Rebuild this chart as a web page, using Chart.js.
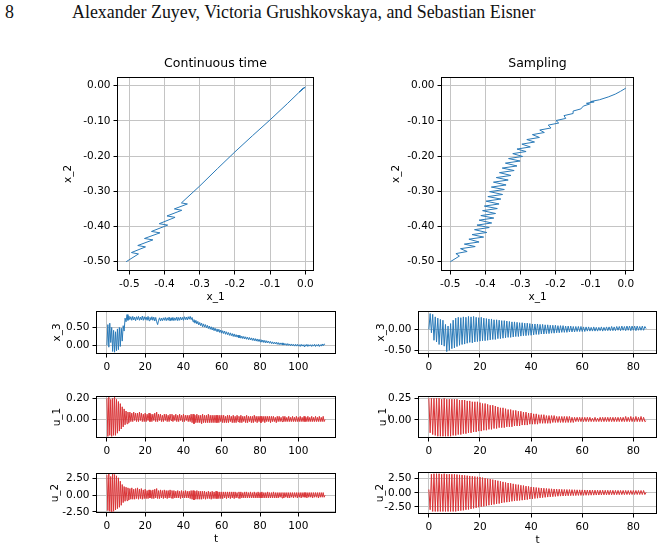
<!DOCTYPE html>
<html><head><meta charset="utf-8">
<script src="https://cdn.jsdelivr.net/npm/chart.js@4.4.1/dist/chart.umd.min.js"></script>
<style>
html,body{margin:0;overflow:hidden}
body{width:664px;height:550px;position:relative;background:#fff}
canvas{position:absolute}
.hdr{position:absolute;top:2px;font-family:"Liberation Serif","DejaVu Serif",serif;font-size:17.9px;line-height:20px;color:#111;white-space:nowrap}
</style></head>
<body>
<div class="hdr" style="left:5px">8</div>
<div class="hdr" style="left:72px">Alexander Zuyev, Victoria Grushkovskaya, and Sebastian Eisner</div>
<canvas id="cTL"></canvas><canvas id="cTR"></canvas>
<canvas id="cX3L"></canvas><canvas id="cX3R"></canvas>
<canvas id="cU1L"></canvas><canvas id="cU1R"></canvas>
<canvas id="cU2L"></canvas><canvas id="cU2R"></canvas>
<script>
const FONT='"DejaVu Sans", sans-serif';
const GRID='#c4c4c4';
const BLUE='#2a7ab8';
const RED='#d93336';
const SAMPLE_STEP=0.5;

// ---- tick values / labels ----
const phaseXTicks=[-0.5,-0.4,-0.3,-0.2,-0.1,0.0];
const phaseXLabels=['-0.5','-0.4','-0.3','-0.2','-0.1','0.0'];
const phaseYTicks=[-0.5,-0.4,-0.3,-0.2,-0.1,0.0];
const phaseYLabels=['-0.50','-0.40','-0.30','-0.20','-0.10','0.00'];
const contTTicks=[0,20,40,60,80,100];
const contTLabels=['0','20','40','60','80','100'];
const sampTTicks=[0,20,40,60,80];
const sampTLabels=['0','20','40','60','80'];
const x3ContYTicks=[0,0.5];  const x3ContYLabels=['0.00','0.50'];
const x3SampYTicks=[-0.5,0]; const x3SampYLabels=['-0.50','0.00'];
const u1ContYTicks=[0,0.2];  const u1ContYLabels=['0.00','0.20'];
const u1SampYTicks=[0,0.25]; const u1SampYLabels=['0.00','0.25'];
const u2YTicks=[-2.5,0,2.5]; const u2YLabels=['-2.50','0.00','2.50'];

// ---- phase portraits (x_1, x_2) ----
const contX1=[-0.509,-0.474,-0.494,-0.454,-0.476,-0.433,-0.457,-0.413,-0.437,-0.391,-0.415,-0.370,-0.393,-0.351,-0.372,-0.335,-0.352,-0.300,-0.250,-0.200,-0.150,-0.100,-0.050,-0.020,-0.003,-0.018,0.000,-0.012,-0.002];
const contX2=[-0.500,-0.478,-0.474,-0.458,-0.454,-0.438,-0.434,-0.418,-0.414,-0.396,-0.392,-0.374,-0.370,-0.354,-0.350,-0.336,-0.333,-0.285,-0.236,-0.188,-0.142,-0.097,-0.050,-0.021,-0.006,-0.018,-0.004,-0.012,-0.005];
const sampX1=[-0.500,-0.474,-0.484,-0.452,-0.471,-0.429,-0.460,-0.418,-0.447,-0.405,-0.438,-0.396,-0.431,-0.389,-0.424,-0.382,-0.418,-0.376,-0.413,-0.371,-0.408,-0.366,-0.403,-0.361,-0.398,-0.356,-0.393,-0.351,-0.388,-0.346,-0.383,-0.341,-0.377,-0.335,-0.369,-0.327,-0.360,-0.318,-0.352,-0.310,-0.343,-0.301,-0.334,-0.294,-0.322,-0.284,-0.310,-0.272,-0.296,-0.260,-0.282,-0.246,-0.266,-0.232,-0.245,-0.213,-0.221,-0.191,-0.199,-0.171,-0.176,-0.150,-0.150,-0.128,-0.121,-0.103,-0.112,-0.090,-0.100,-0.075,-0.050,-0.030,-0.015,0.000];
const sampX2=[-0.500,-0.484,-0.477,-0.471,-0.463,-0.457,-0.450,-0.444,-0.436,-0.430,-0.423,-0.417,-0.409,-0.403,-0.396,-0.390,-0.382,-0.376,-0.369,-0.363,-0.355,-0.349,-0.342,-0.336,-0.328,-0.322,-0.315,-0.309,-0.301,-0.295,-0.288,-0.282,-0.274,-0.268,-0.261,-0.255,-0.247,-0.241,-0.234,-0.228,-0.220,-0.214,-0.207,-0.201,-0.193,-0.187,-0.180,-0.174,-0.166,-0.160,-0.153,-0.147,-0.139,-0.133,-0.126,-0.120,-0.112,-0.106,-0.099,-0.093,-0.085,-0.079,-0.072,-0.066,-0.058,-0.052,-0.050,-0.046,-0.045,-0.040,-0.032,-0.024,-0.016,-0.007];

// ---- time series, sampled every SAMPLE_STEP ----
const x3Cont=[0,.58,-.05,.62,.08,.50,-.17,.42,-.19,.38,-.15,.46,-.12,.50,-.03,.48,.12,.55,.40,.76,.66,.86,.70,.82,
.72,.80,.70,.81,.71,.79,.69,.80,.72,.81,.70,.79,.71,.82,.70,.80,.72,.79,.70,.81,.69,.78,.71,.80,.70,.79,.68,.78,.66,.58,
.70,.77,.68,.76,.69,.77,.70,.78,.69,.77,.70,.79,.68,.77,.70,.78,.69,.77,.70,.79,.69,.78,.70,.79,.71,.78,.70,.80,.72,.79,.71,.80,.73,.81,.72,.78,
.66,.72,.62,.70,.60,.67,.57,.64,.55,.62,.52,.60,.51,.58,.49,.56,.47,.54,.45,.52,.43,.50,.41,.48,.40,.46,.38,.45,.36,.43,
.34,.41,.33,.40,.31,.38,.30,.36,.28,.35,.27,.33,.25,.32,.24,.30,.23,.29,.21,.28,.20,.26,.19,.25,.18,.24,.17,.23,.16,.22,
.15,.21,.14,.20,.13,.19,.12,.18,.11,.17,.10,.16,.09,.15,.08,.14,.07,.13,.07,.12,.06,.11,.05,.10,.04,.09,.04,.09,.03,.08,
.02,.07,.02,.07,.01,.06,.01,.05,.00,.05,.00,.04,-.01,.04,-.01,.03,-.02,.03,-.02,.03,-.02,.02,-.03,.03,-.02,.02,-.03,.02,
-.02,.03,-.03,.02,-.02,.02,-.03,.02,-.02,.03,-.03,.02,-.02,.03,-.03,.02,-.02,.04,-.01,.04,.02];
const u1Cont=[.20,-.16,.21,-.15,.19,-.16,.20,-.15,.21,-.15,.19,-.13,.17,-.11,.15,-.09,.12,-.07,.10,-.05,
.08,-.04,.07,-.03,.07,-.02,.06,-.02,.07,-.01,.06,-.02,.06,-.02,.07,-.01,.06,-.02,.05,-.02,
.06,-.02,.05,-.01,.06,-.02,.05,-.02,.05,-.01,.06,-.02,.07,-.02,.05,-.01,.05,-.02,.04,-.02,
.05,-.01,.05,-.02,.04,-.02,.05,-.01,.05,-.02,.04,-.01,.05,-.02,.04,-.02,.05,-.01,.04,-.02,
.05,-.02,.04,-.01,.04,-.02,.04,-.02,.05,-.03,.05,-.04,.04,-.03,.05,-.03,.04,-.03,.04,-.04,
.05,-.03,.04,-.03,.04,-.03,.05,-.03,.04,-.03,.04,-.03,.04,-.03,.04,-.03,.04,-.03,.04,-.02,
.04,-.03,.04,-.03,.03,-.03,.04,-.03,.04,-.02,.03,-.03,.04,-.03,.03,-.03,.04,-.02,.03,-.03,
.04,-.03,.03,-.02,.03,-.03,.04,-.03,.03,-.02,.03,-.03,.03,-.03,.04,-.02,.03,-.03,.03,-.02,
.03,-.03,.03,-.02,.03,-.03,.03,-.02,.03,-.02,.03,-.03,.03,-.02,.03,-.02,.02,-.03,.03,-.02,
.03,-.02,.02,-.02,.03,-.02,.03,-.02,.02,-.02,.03,-.02,.02,-.02,.03,-.02,.02,-.02,.03,-.02,
.02,-.02,.03,-.02,.02,-.02,.03,-.02,.02,-.02,.03,-.02,.02,-.02,.03,-.02,.02,-.02,.03,-.02,
.02,-.02,.03,-.02,.02,-.02,.03,-.02,.00];
const u2Cont=[3.0,-2.3,3.2,-2.4,2.8,-2.5,3.2,-2.4,3.1,-2.2,2.9,-2.0,2.6,-1.8,2.1,-1.5,1.6,-1.1,1.3,-.9,
1.2,-.8,1.1,-.7,1.0,-.6,1.1,-.6,.9,-.6,1.0,-.5,1.1,-.6,.9,-.5,1.0,-.6,.8,-.5,
.9,-.5,.7,-.5,.8,-.4,.7,-.5,.8,-.5,.9,-.4,1.0,-.5,.7,-.5,.8,-.4,.7,-.5,
.8,-.4,.7,-.5,.7,-.4,.8,-.4,.7,-.5,.7,-.4,.6,-.4,.7,-.4,.6,-.5,.7,-.4,
.6,-.4,.7,-.4,.6,-.4,.6,-.5,.7,-.6,.7,-.7,.6,-.6,.7,-.6,.6,-.6,.6,-.6,
.6,-.5,.6,-.6,.5,-.5,.6,-.5,.5,-.6,.6,-.5,.5,-.5,.6,-.5,.5,-.5,.5,-.5,
.5,-.5,.5,-.4,.5,-.5,.5,-.4,.5,-.5,.5,-.4,.5,-.5,.5,-.4,.4,-.4,.5,-.5,
.5,-.4,.4,-.4,.5,-.4,.5,-.4,.4,-.4,.5,-.4,.4,-.4,.5,-.4,.4,-.4,.5,-.4,
.4,-.4,.5,-.4,.4,-.4,.4,-.4,.5,-.4,.4,-.4,.4,-.4,.5,-.4,.4,-.4,.4,-.4,
.4,-.3,.4,-.4,.4,-.4,.4,-.3,.4,-.4,.4,-.4,.4,-.3,.4,-.4,.4,-.3,.4,-.4,
.4,-.3,.4,-.4,.4,-.3,.4,-.3,.4,-.4,.4,-.3,.4,-.3,.4,-.4,.4,-.3,.4,-.3,
.4,-.4,.4,-.3,.4,-.3,.4,-.3,0];
const x3Samp=[0,.38,-.08,.36,-.26,.30,-.30,.27,-.36,.24,-.37,.22,-.40,.12,-.53,.08,-.50,.14,-.46,.22,
-.44,.27,-.41,.29,-.38,.28,-.36,.30,-.35,.29,-.33,.31,-.31,.30,-.32,.31,-.30,.29,-.29,.28,
-.28,.29,-.27,.27,-.27,.26,-.26,.25,-.25,.25,-.24,.23,-.24,.23,-.22,.22,-.22,.21,-.21,.21,
-.20,.20,-.19,.19,-.19,.18,-.18,.18,-.17,.17,-.17,.16,-.16,.16,-.15,.15,-.15,.15,-.14,.14,
-.14,.13,-.13,.13,-.12,.13,-.12,.12,-.11,.12,-.11,.11,-.10,.11,-.10,.10,-.09,.10,-.09,.10,
-.08,.09,-.08,.09,-.07,.09,-.07,.08,-.07,.08,-.06,.08,-.06,.07,-.06,.07,-.05,.07,-.05,.07,
-.05,.06,-.05,.06,-.04,.06,-.04,.05,-.04,.06,-.04,.05,-.04,.05,-.03,.06,-.04,.05,-.03,.06,
-.03,.06,-.03,.07,-.03,.06,-.03,.07,-.02,.07,-.03,.08,-.02,.07,-.03,.08,-.02,.08,-.03,.08,
-.02,.08,-.03,.08,-.02,.07,-.02,.08,-.02,.07,.02];
const u1Samp=[.25,-.15,.25,-.17,.25,-.18,.25,-.19,.25,-.19,.24,-.19,.25,-.19,.24,-.19,.24,-.19,.24,-.18,
.24,-.18,.24,-.17,.23,-.17,.23,-.16,.23,-.16,.22,-.15,.22,-.15,.21,-.14,.21,-.14,.21,-.13,
.20,-.13,.19,-.12,.19,-.12,.18,-.11,.17,-.11,.17,-.10,.16,-.10,.15,-.09,.14,-.09,.14,-.09,
.13,-.08,.12,-.08,.12,-.08,.11,-.07,.11,-.07,.10,-.07,.10,-.06,.09,-.06,.09,-.06,.08,-.05,
.08,-.05,.07,-.05,.07,-.05,.06,-.04,.06,-.04,.06,-.04,.05,-.04,.05,-.04,.05,-.03,.05,-.03,
.04,-.03,.04,-.03,.04,-.03,.04,-.03,.04,-.03,.04,-.03,.03,-.03,.03,-.02,.03,-.02,.03,-.02,
.03,-.02,.03,-.02,.03,-.02,.03,-.02,.02,-.02,.03,-.02,.02,-.02,.03,-.02,.03,-.02,.03,-.02,
.03,-.02,.03,-.02,.03,-.02,.03,-.02,.03,-.02,.03,-.02,.03,-.02,.04,-.02,.03,-.02,.04,-.02,
.03,-.02,.04,-.02,.03,-.02,.04,-.02,.03,-.02,-.01];
const u2Samp=[.6,-3.0,3.3,-3.3,3.4,-3.3,3.4,-3.3,3.4,-3.3,3.3,-3.3,3.4,-3.3,3.3,-3.3,3.3,-3.3,3.3,-3.3,
3.3,-3.3,3.25,-3.2,3.2,-3.15,3.15,-3.1,3.1,-3.0,3.05,-2.95,3.0,-2.85,2.95,-2.75,2.9,-2.65,2.85,-2.55,
2.8,-2.45,2.7,-2.4,2.6,-2.3,2.5,-2.2,2.45,-2.15,2.35,-2.05,2.25,-1.95,2.15,-1.9,2.05,-1.8,1.95,-1.7,
1.85,-1.65,1.75,-1.6,1.7,-1.5,1.6,-1.45,1.5,-1.4,1.45,-1.35,1.35,-1.3,1.3,-1.25,1.2,-1.2,1.15,-1.1,
1.05,-1.07,1.0,-1.0,.95,-.95,.9,-.9,.85,-.85,.82,-.8,.78,-.75,.75,-.72,.72,-.68,.69,-.64,
.66,-.6,.64,-.58,.62,-.56,.6,-.54,.59,-.52,.58,-.5,.57,-.49,.55,-.48,.54,-.46,.53,-.45,
.52,-.44,.51,-.43,.5,-.42,.5,-.41,.49,-.4,.48,-.39,.48,-.38,.47,-.37,.47,-.36,.46,-.36,
.46,-.35,.45,-.34,.45,-.34,.44,-.33,.44,-.33,.43,-.32,.43,-.32,.43,-.31,.42,-.31,.42,-.3,
.42,-.3,.42,-.3,.42,-.3,.42,-.3,.42,-.3,.1];

function series(vals){return vals.map((v,i)=>({x:i*SAMPLE_STEP,y:v}));}
function path(xs,ys){return xs.map((x,i)=>({x:x,y:ys[i]}));}

const framePlugin={id:'frame',afterDraw(chart){
  const a=chart.chartArea,c=chart.ctx;
  c.save();c.strokeStyle='#000';c.lineWidth=1;
  c.strokeRect(Math.round(a.left)+0.5,Math.round(a.top)+0.5,Math.round(a.right-a.left)-1,Math.round(a.bottom-a.top)-1);
  c.restore();}};

function tickFont(){return {family:FONT,size:10.5};}

function drawPlot(p){
  const cv=document.getElementById(p.id);
  cv.width=p.w;cv.height=p.h;
  cv.style.left=p.left+'px';cv.style.top=p.top+'px';
  cv.style.width=p.w+'px';cv.style.height=p.h+'px';
  return new Chart(cv,{
    type:'scatter',
    data:{datasets:[{data:p.data,showLine:true,borderColor:p.color,borderWidth:1,pointRadius:0,pointHoverRadius:0,tension:0,fill:false}]},
    options:{
      responsive:false,maintainAspectRatio:false,animation:false,devicePixelRatio:1,events:[],
      layout:{padding:{top:p.padT,right:p.padR,bottom:0,left:0}},
      plugins:{legend:{display:false},tooltip:{enabled:false},
        title:p.title?{display:true,fullSize:false,text:p.title,color:'#000',font:{family:FONT,size:12.5,weight:'normal'},padding:{top:p.titleT,bottom:p.titleB}}:{display:false}},
      scales:{
        x:{type:'linear',position:'bottom',min:p.xr[0],max:p.xr[1],
          afterBuildTicks:s=>{s.ticks=p.xt.map(v=>({value:v}));},
          afterFit:s=>{s.height=p.hx;},
          ticks:{autoSkip:false,maxRotation:0,minRotation:0,padding:3,color:'#000',font:tickFont(),callback:(v,i)=>p.xl[i]},
          grid:{color:GRID,lineWidth:1,drawTicks:true,tickLength:3.5,tickColor:'#000',tickWidth:1},
          border:{display:false},
          title:{display:!!p.xTitle,text:p.xTitle||'',color:'#000',font:tickFont(),padding:{top:0,bottom:1}}},
        y:{type:'linear',position:'left',min:p.yr[0],max:p.yr[1],
          afterBuildTicks:s=>{s.ticks=p.yt.map(v=>({value:v}));},
          afterFit:s=>{s.width=p.wy;},
          ticks:{autoSkip:false,padding:3,color:'#000',font:tickFont(),callback:(v,i)=>p.yl[i]},
          grid:{color:GRID,lineWidth:1,drawTicks:true,tickLength:3.5,tickColor:'#000',tickWidth:1},
          border:{display:false},
          title:{display:true,text:p.yTitle,color:'#000',font:tickFont(),padding:{top:p.yTitlePad,bottom:0}}}
      }
    },
    plugins:[framePlugin]
  });
}

// Phase portraits (title box spans the plot area only, so it centres over it)
drawPlot({id:'cTL',left:55,top:45,w:269,h:260,wy:62,hx:34,padT:0,padR:10,title:'Continuous time',titleT:11.5,titleB:5.5,
  xr:[-0.535,0.0247],yr:[-0.5264,0.0247],xt:phaseXTicks,xl:phaseXLabels,yt:phaseYTicks,yl:phaseYLabels,
  xTitle:'x_1',yTitle:'x_2',yTitlePad:6.7,color:BLUE,data:path(contX1,contX2)});
drawPlot({id:'cTR',left:380,top:45,w:264,h:260,wy:61,hx:34,padT:0,padR:10,title:'Sampling',titleT:11.5,titleB:5.5,
  xr:[-0.5265,0.0235],yr:[-0.5264,0.0247],xt:phaseXTicks,xl:phaseXLabels,yt:phaseYTicks,yl:phaseYLabels,
  xTitle:'x_1',yTitle:'x_2',yTitlePad:10.4,color:BLUE,data:path(sampX1,sampX2)});

// Continuous-time signals (left column)
drawPlot({id:'cX3L',left:40,top:301,w:308,h:75,wy:56,hx:22,padT:10,padR:12,
  xr:[-5.7,119.7],yr:[-0.24,0.96],xt:contTTicks,xl:contTLabels,yt:x3ContYTicks,yl:x3ContYLabels,
  yTitle:'x_3',yTitlePad:11.2,color:BLUE,data:series(x3Cont)});
drawPlot({id:'cU1L',left:40,top:386,w:308,h:74,wy:56,hx:22,padT:10,padR:12,
  xr:[-5.7,119.7],yr:[-0.175,0.222],xt:contTTicks,xl:contTLabels,yt:u1ContYTicks,yl:u1ContYLabels,
  yTitle:'u_1',yTitlePad:10.7,color:RED,data:series(u1Cont)});
drawPlot({id:'cU2L',left:40,top:463,w:308,h:84,wy:56,hx:34,padT:10,padR:12,
  xr:[-5.7,119.7],yr:[-2.65,3.32],xt:contTTicks,xl:contTLabels,yt:u2YTicks,yl:u2YLabels,
  xTitle:'t',yTitle:'u_2',yTitlePad:8.7,color:RED,data:series(u2Cont)});

// Sampled signals (right column)
drawPlot({id:'cX3R',left:364,top:301,w:299,h:75,wy:54,hx:22,padT:10,padR:6,
  xr:[-4.25,89.25],yr:[-0.587,0.44],xt:sampTTicks,xl:sampTLabels,yt:x3SampYTicks,yl:x3SampYLabels,
  yTitle:'x_3',yTitlePad:10.7,color:BLUE,data:series(x3Samp)});
drawPlot({id:'cU1R',left:364,top:386,w:299,h:74,wy:54,hx:22,padT:10,padR:6,
  xr:[-4.25,89.25],yr:[-0.21,0.277],xt:sampTTicks,xl:sampTLabels,yt:u1SampYTicks,yl:u1SampYLabels,
  yTitle:'u_1',yTitlePad:12.7,color:RED,data:series(u1Samp)});
drawPlot({id:'cU2R',left:364,top:462,w:299,h:86,wy:54,hx:34,padT:10,padR:6,
  xr:[-4.25,89.25],yr:[-3.75,3.7],xt:sampTTicks,xl:sampTLabels,yt:u2YTicks,yl:u2YLabels,
  xTitle:'t',yTitle:'u_2',yTitlePad:9.7,color:RED,data:series(u2Samp)});
</script>
</body></html>
